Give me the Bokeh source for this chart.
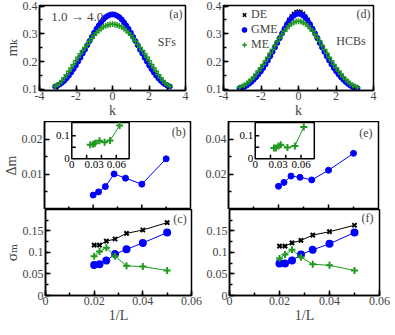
import numpy as np
from bokeh.plotting import figure
from bokeh.layouts import column, row
from bokeh.models import (Range1d, SingleIntervalTicker, FixedTicker, Label, Legend,
                          LegendItem, CustomJSTickFormatter)
from bokeh.embed import file_html
from bokeh.resources import INLINE
from bokeh.core.properties import value

FONT = "'Liberation Serif', 'DejaVu Serif', serif"
BLUE = "#0000ff"
GREEN = "#1f991f"
BLACK = "#000000"

# ---------------- data ----------------
k_vals = list(np.linspace(-np.pi, np.pi, 51))

sf_gme = [.110, .113, .118, .124, .131, .140, .150, .161, .173, .186, .200, .214, .229,
          .243, .259, .274, .289, .304, .318, .330, .342, .352, .360, .365, .369, .370,
          .369, .365, .360, .352, .342, .330, .318, .304, .289, .274, .259, .243, .229,
          .214, .200, .186, .173, .161, .150, .140, .131, .124, .118, .113, .110]
sf_me = [.111, .116, .123, .132, .142, .153, .165, .177, .190, .203, .216, .228, .240,
         .251, .262, .273, .284, .295, .304, .312, .319, .325, .329, .332, .334, .335,
         .334, .332, .329, .325, .319, .312, .304, .295, .284, .273, .262, .251, .240,
         .228, .216, .203, .190, .177, .165, .153, .142, .132, .123, .116, .111]
hcb_de = [.105, .107, .111, .116, .122, .130, .138, .147, .157, .168, .180, .193, .207,
          .222, .238, .254, .270, .287, .304, .320, .336, .351, .363, .373, .379, .381,
          .379, .373, .363, .351, .336, .320, .304, .287, .270, .254, .238, .222, .207,
          .193, .180, .168, .157, .147, .138, .130, .122, .116, .111, .107, .105]
hcb_gme = [.104, .106, .109, .114, .120, .127, .135, .144, .154, .165, .177, .190, .204,
           .219, .235, .251, .267, .284, .301, .317, .332, .345, .357, .366, .371, .373,
           .371, .366, .357, .345, .332, .317, .301, .284, .267, .251, .235, .219, .204,
           .190, .177, .165, .154, .144, .135, .127, .120, .114, .109, .106, .104]
hcb_me = [.107, .110, .115, .121, .128, .136, .145, .155, .166, .178, .190, .203, .216,
          .230, .244, .258, .272, .285, .298, .309, .319, .328, .335, .341, .344, .345,
          .344, .341, .335, .328, .319, .309, .298, .285, .272, .258, .244, .230, .216,
          .203, .190, .178, .166, .155, .145, .136, .128, .121, .115, .110, .107]

inv_L = [0.02, 0.0222, 0.025, 0.0286, 0.0333, 0.04, 0.05]

sf_dm_gme = [0.0041, 0.0050, 0.0065, 0.0101, 0.0089, 0.0072, 0.0144]
hcb_dm_gme = [0.0132, 0.0154, 0.0190, 0.0183, 0.0168, 0.0223, 0.0319]

sf_inset_x = [0.0249, 0.0288, 0.0314, 0.0374, 0.0443, 0.0516, 0.0645]
sf_inset_me = [0.0615, 0.063, 0.068, 0.079, 0.072, 0.080, 0.145]
hcb_inset_x = [0.0245, 0.0271, 0.0306, 0.0335, 0.0422, 0.0520, 0.0636]
hcb_inset_me = [0.047, 0.047, 0.0556, 0.0615, 0.0487, 0.0556, 0.138]

sf_sig_de = [0.117, 0.117, 0.126, 0.131, 0.144, 0.152, 0.169]
sf_sig_gme = [0.071, 0.0725, 0.081, 0.096, 0.107, 0.122, 0.146]
sf_sig_me = [0.091, 0.102, 0.111, 0.091, 0.069, 0.067, 0.058]
hcb_sig_de = [0.1146, 0.1146, 0.122, 0.128, 0.140, 0.148, 0.163]
hcb_sig_gme = [0.074, 0.074, 0.081, 0.095, 0.106, 0.120, 0.146]
hcb_sig_me = [0.086, 0.095, 0.106, 0.089, 0.0725, 0.070, 0.058]

mid_xtick_major = [0.02, 0.04]
mid_xtick_minor = [0.01, 0.03, 0.05]
inset_xtick_marks = [0.02, 0.04, 0.06]
inset_xtick_labels = [0, 0.03, 0.06]
inset_ytick_marks = [0.05, 0.1]
inset_ytick_labels = [0, 0.1]

# ---------------- layout constants ----------------
L_FW, R_FW = 146, 150
L_MBL, L_MBR = 39, 12
R_MBL, R_MBR = 26, 12
FH_TOP, FH_MID, FH_BOT = 85, 88, 86
MB_AX = 31

FMT = CustomJSTickFormatter(code="return String(parseFloat(tick.toFixed(6)));")


def make_fig(fw, fh, xr, yr, mbl, mbr, mbt, mbb, xint, yint):
    p = figure(frame_width=fw, frame_height=fh, x_range=Range1d(*xr), y_range=Range1d(*yr),
               output_backend="svg", toolbar_location=None, tools="",
               min_border_left=mbl, min_border_right=mbr,
               min_border_top=mbt, min_border_bottom=mbb)
    p.grid.visible = False
    p.outline_line_color = "black"
    p.outline_line_width = 1.5
    p.outline_line_alpha = 1
    p.xaxis.ticker = SingleIntervalTicker(interval=xint, num_minor_ticks=2)
    p.yaxis.ticker = SingleIntervalTicker(interval=yint, num_minor_ticks=2)
    for ax in (p.xaxis[0], p.yaxis[0]):
        ax.axis_line_width = 1.5
        ax.major_tick_in = 5
        ax.major_tick_out = 0
        ax.minor_tick_in = 3
        ax.minor_tick_out = 0
        ax.major_tick_line_width = 1.5
        ax.minor_tick_line_width = 1.5
        ax.major_label_text_font = FONT
        ax.major_label_text_font_size = "12px"
        ax.axis_label_text_font = FONT
        ax.axis_label_text_font_style = "normal"
        ax.axis_label_text_font_size = "14px"
        ax.axis_label_standoff = 0
        ax.formatter = FMT
    p.xaxis.major_label_standoff = 1
    p.yaxis.major_label_standoff = 2
    return p


def add_text(p, x, y, txt, align="right", size="12px", baseline="middle", xo=0, yo=0):
    p.add_layout(Label(x=x, y=y, text=txt, text_font=FONT, text_font_size=size,
                       text_align=align, text_baseline=baseline, x_offset=xo, y_offset=yo))


def mid_axes(p, yticks, yminor):
    p.xaxis.visible = False
    p.yaxis.ticker = FixedTicker(ticks=yticks, minor_ticks=yminor)
    p.ray(x=mid_xtick_major, y=[0] * len(mid_xtick_major), length=5, length_units="screen",
          angle=np.pi / 2, line_color="black", line_width=1.5)
    p.ray(x=mid_xtick_minor, y=[0] * len(mid_xtick_minor), length=3, length_units="screen",
          angle=np.pi / 2, line_color="black", line_width=1.5)
    add_text(p, 0, 0, "0", align="right", baseline="bottom", xo=-2, yo=3)


def add_inset(p, xs, ys, fl, fr, fb, ft, ix1=0.0774, iy1=0.158):
    sx = ix1 / (fr - fl)
    sy = iy1 / (ft - fb)
    p.extra_x_ranges = {"ix": Range1d(-fl * sx, -fl * sx + sx)}
    p.extra_y_ranges = {"iy": Range1d(-fb * sy, -fb * sy + sy)}
    kw = dict(x_range_name="ix", y_range_name="iy")
    p.quad(left=0, right=ix1, bottom=0, top=iy1, fill_color="white",
           line_color="black", line_width=1.5, **kw)
    p.ray(x=inset_xtick_marks, y=[0] * len(inset_xtick_marks), length=4,
          length_units="screen", angle=np.pi / 2, line_color="black", line_width=1.5, **kw)
    p.ray(x=[0] * len(inset_ytick_marks), y=inset_ytick_marks, length=4,
          length_units="screen", angle=0, line_color="black", line_width=1.5, **kw)
    p.text(x=inset_xtick_labels, y=[0] * len(inset_xtick_labels),
           text=[str(v) for v in inset_xtick_labels], text_font=value(FONT),
           text_font_size="11px", text_align="center", text_baseline="top",
           y_offset=2, **kw)
    p.text(x=[0] * len(inset_ytick_labels), y=inset_ytick_labels,
           text=[str(v) for v in inset_ytick_labels], text_font=value(FONT),
           text_font_size="11px", text_align="right", text_baseline="middle",
           x_offset=-2, **kw)
    p.line(xs, ys, line_color=GREEN, line_width=1, **kw)
    p.scatter(xs, ys, marker="cross", size=7, line_color=GREEN, line_width=2, **kw)


# ---------------- (a) ----------------
pa = make_fig(L_FW, FH_TOP, (-4, 4), (0.096, 0.402), L_MBL, L_MBR, 5, MB_AX, 2, 0.1)
pa.xaxis.axis_label = "k"
pa.yaxis.axis_label = "mₖ"
pa.yaxis.axis_label_text_font_size = "15px"
pa.scatter(k_vals, sf_gme, marker="circle", size=5, fill_color=BLUE, line_color=BLUE)
pa.scatter(k_vals, sf_me, marker="cross", size=6, line_color=GREEN, line_width=1.5)
add_text(pa, -3.36, 0.363, "1.0 → 4.0", align="left", size="13px")
add_text(pa, 3.84, 0.37, "(a)")
add_text(pa, 3.47, 0.27, "SFs")

# ---------------- (d) ----------------
pd = make_fig(R_FW, FH_TOP, (-4, 4), (0.096, 0.402), R_MBL, R_MBR, 5, MB_AX, 2, 0.1)
pd.xaxis.axis_label = "k"
r_de = pd.scatter(k_vals, hcb_de, marker="x", size=5, line_color=BLACK, line_width=1.5)
r_gme = pd.scatter(k_vals, hcb_gme, marker="circle", size=5, fill_color=BLUE, line_color=BLUE)
r_me = pd.scatter(k_vals, hcb_me, marker="cross", size=6, line_color=GREEN, line_width=1.5)
leg = Legend(items=[LegendItem(label="DE", renderers=[r_de]),
                    LegendItem(label="GME", renderers=[r_gme]),
                    LegendItem(label="ME", renderers=[r_me])],
             location=(15, 38), padding=0, margin=0, spacing=0,
             label_height=13, glyph_height=13, glyph_width=12, label_standoff=1,
             label_text_font=FONT, label_text_font_size="12px",
             background_fill_alpha=0, border_line_alpha=0)
pd.add_layout(leg)
add_text(pd, 3.84, 0.37, "(d)")
add_text(pd, 3.58, 0.273, "HCBs")

# ---------------- (b) ----------------
pb = make_fig(L_FW, FH_MID, (0, 0.06), (0, 0.025), L_MBL, L_MBR, 0, 0, 0.02, 0.01)
mid_axes(pb, [0.01, 0.02], [0.005, 0.015])
pb.yaxis.axis_label = "Δm"
pb.line(inv_L, sf_dm_gme, line_color=BLUE, line_width=1)
pb.scatter(inv_L, sf_dm_gme, marker="circle", size=6, fill_color=BLUE, line_color=BLUE)
add_inset(pb, sf_inset_x, sf_inset_me, 0.187, 0.58, 0.576, 0.989)
add_text(pb, 0.058, 0.022, "(b)")

# ---------------- (e) ----------------
pe = make_fig(R_FW, FH_MID, (0, 0.06), (0, 0.05), R_MBL, R_MBR, 0, 0, 0.02, 0.02)
mid_axes(pe, [0.02, 0.04], [0.01, 0.03])
pe.line(inv_L, hcb_dm_gme, line_color=BLUE, line_width=1)
pe.scatter(inv_L, hcb_dm_gme, marker="circle", size=6, fill_color=BLUE, line_color=BLUE)
add_inset(pe, hcb_inset_x, hcb_inset_me, 0.178, 0.572, 0.576, 0.989)
add_text(pe, 0.0576, 0.0435, "(e)")

# ---------------- (c) ----------------
pc = make_fig(L_FW, FH_BOT, (0, 0.06), (0, 0.1995), L_MBL, L_MBR, 0, MB_AX, 0.02, 0.05)
pc.xaxis.axis_label = "1/L"
pc.yaxis.axis_label = "σₘ"
pc.yaxis.axis_label_text_font_size = "15px"
for ys, col, mk, sz in ((sf_sig_de, BLACK, "x", 6), (sf_sig_gme, BLUE, "circle", 6),
                        (sf_sig_me, GREEN, "cross", 7)):
    pc.line(inv_L, ys, line_color=col, line_width=1)
    pc.scatter(inv_L, ys, marker=mk, size=sz, fill_color=col, line_color=col, line_width=2)
add_text(pc, 0.058, 0.178, "(c)")

# ---------------- (f) ----------------
pf = make_fig(R_FW, FH_BOT, (0, 0.06), (0, 0.1995), R_MBL, R_MBR, 0, MB_AX, 0.02, 0.05)
pf.xaxis.axis_label = "1/L"
for ys, col, mk, sz in ((hcb_sig_de, BLACK, "x", 6), (hcb_sig_gme, BLUE, "circle", 6),
                        (hcb_sig_me, GREEN, "cross", 7)):
    pf.line(inv_L, ys, line_color=col, line_width=1)
    pf.scatter(inv_L, ys, marker=mk, size=sz, fill_color=col, line_color=col, line_width=2)
add_text(pf, 0.0576, 0.18, "(f)")

layout = column(row(pa, pd), row(pb, pe), row(pc, pf))
open("out.html", "w").write(file_html(layout, INLINE))
